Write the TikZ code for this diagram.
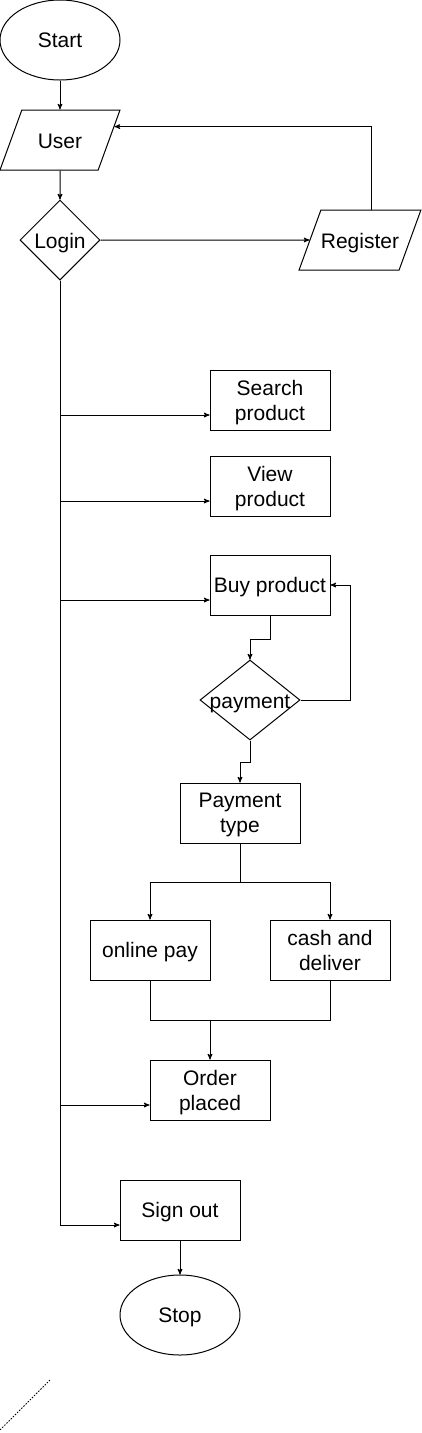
\documentclass[tikz,border=0pt]{standalone}
\usepackage{fontspec}
\setmainfont{Liberation Sans}
\usetikzlibrary{
  shapes.geometric,
  positioning,
  arrows,
  calc
}
\tikzset{
  >=stealth',
  every node/.style={font=\fontsize{21}{25}\selectfont, align=center, inner sep=0pt, text depth=0pt},
  startstop/.style={draw, ellipse, minimum width=120pt, minimum height=80pt},
  io/.style={draw, trapezium, trapezium left angle=70, trapezium right angle=110,
    trapezium stretches body=true, text height=16pt, inner ysep=22pt, minimum width=120pt},
  decision/.style={draw, diamond, text height=16pt, minimum width=80pt, minimum height=80pt},
  process/.style={draw, rectangle, minimum width=120pt, minimum height=60pt}
}

\begin{document}
\begin{tikzpicture}[x=1pt, y=-1pt, line width=1pt, ->]
    \useasboundingbox (0,0) rectangle (422,1433);
    \node[startstop] (start) at (60,40) {Start};
    \node[io] (user) at (60,140) {User};
    \node[decision] (login) at (60,240) {\makebox[0pt]{Login}};
    \node[io] (register) at (360,240) {Register};
    \node[process] (search) at (270,400) {Search\\product};
    \node[process, below=25pt of search] (view) {View\\product};
    \node[process, below=38pt of view] (buy) {Buy product};
    \node[decision, minimum width=100pt] (payment) at (250,700) {\makebox[0pt]{payment}};
    \node[process] (paytype) at (240,813) {Payment\\type};
    \node[process] (online) at (150,950) {online pay};
    \node[process] (cash) at (330,950) {cash and\\deliver};
    \node[process] (order) at (210,1090) {Order\\placed};
    \node[process] (signout) at (180,1210) {Sign out};
    \node[startstop] (stop) at (180,1315) {Stop};
    \coordinate (userin) at ($(user.top right corner)!0.28!(user.bottom right corner)$);
    \coordinate (regout) at ($(register.top left corner)!0.5!(register.top right corner)$);
    \coordinate (dotA) at (50,1380);
    \coordinate (dotB) at (0,1430);
    % top part
    \draw (start) -- (user);
    \draw (user) -- (login);
    \draw (login) -- (register);
    \draw (regout) |- (userin);
    % branches off the login line
    \draw (login.south) |- ([yshift=-15pt]search.west);
    \draw (login.south) |- ([yshift=-15pt]view.west);
    \draw (login.south) |- ([yshift=-15pt]buy.west);
    \draw (login.south) |- ([yshift=-15pt]order.west);
    \draw (login.south) |- ([yshift=-15pt]signout.west);
    % buying
    \draw (buy.south) -- ++(0,24) -| (payment.north);
    \draw (payment.east) -| ([xshift=20pt]buy.east) -- (buy.east);
    \draw (payment.south) -- ++(0,22) -| (paytype.north);
    \draw (paytype.south) -- ++(0,39) coordinate (split) -| (online.north);
    \draw (split) -| (cash.north);
    \draw[-] (online.south) -- ++(0,40) coordinate (join) -| (cash.south);
    \draw (order.north |- join) -- (order.north);
    \draw (signout) -- (stop);
    \draw[-, line width=0.8pt, dash pattern=on 1.5pt off 1.5pt] (dotA) -- (dotB);
\end{tikzpicture}
\end{document}
